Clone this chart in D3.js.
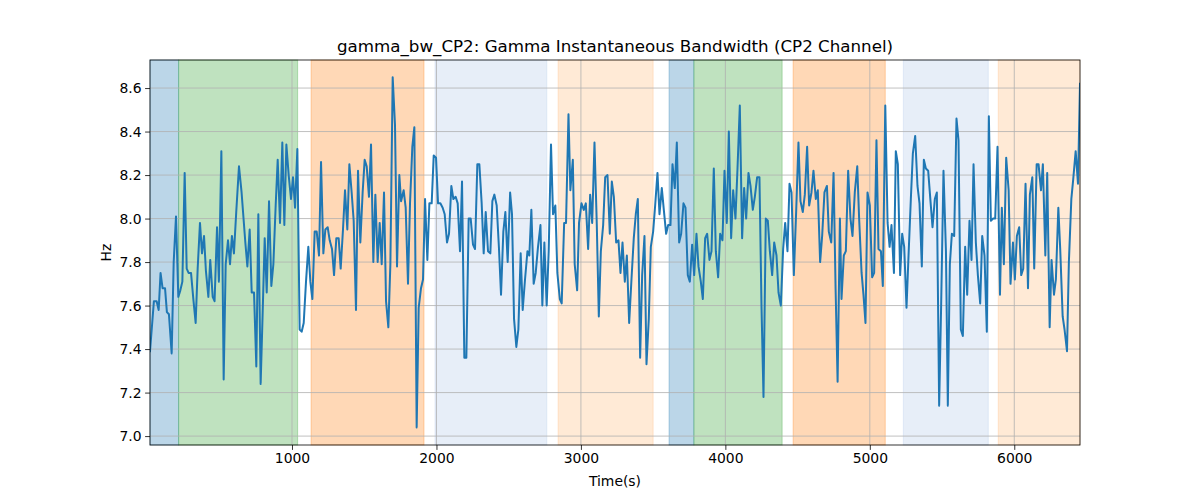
<!DOCTYPE html>
<html><head><meta charset="utf-8">
<script src="https://cdn.jsdelivr.net/npm/d3@7"></script>
<style>body{margin:0;background:#fff}svg{font-family:"DejaVu Sans",sans-serif}</style>
</head><body><svg id="c" width="1200" height="500"></svg>
<script>
const time = [17,44,63,77,90,104,121,134,148,167,181,197,213,227,241,257,271,284,301,317,333,347,363,377,391,404,421,434,451,464,481,494,511,527,541,557,571,584,598,614,633,651,677,691,707,721,737,753,767,783,797,811,
825,841,857,871,887,901,917,933,947,961,977,993,1007,1021,1037,1053,1067,1081,1097,1113,1127,1141,1157,1171,1187,1201,1217,1231,1247,1261,1277,1291,1307,1323,1337,1353,1367,1383,1397,1413,1427,1443,1457,1473,1489,1503,1517,1533,1547,1563,1577,1593,1607,
1621,1637,1651,1667,1681,1697,1713,1727,1743,1755,1773,1787,1803,1817,1833,1847,1863,1877,1893,1907,1921,1937,1951,1967,1981,1997,2011,2027,2043,2057,2073,2087,2103,2117,2133,2147,2163,2177,2193,2207,2223,2237,2253,2267,2283,2297,2313,2327,2341,2357,2373,2387,2401,
2417,2433,2447,2463,2477,2493,2510,2523,2537,2553,2567,2583,2597,2613,2630,2643,2657,2673,2687,2703,2720,2733,2747,2763,2777,2793,2807,2823,2837,2854,2867,2884,2897,2914,2927,2944,2957,2974,2987,3004,3020,3034,3050,3064,3078,3094,3110,3124,3138,3154,3168,3184,3200,
3214,3228,3244,3260,3274,3288,3304,3318,3334,3350,3366,3380,3394,3410,3424,3440,3454,3470,3484,3500,3514,3530,3544,3560,3574,3590,3604,3620,3634,3650,3664,3680,3694,3710,3724,3740,3754,3770,3784,3800,3814,3830,3844,3860,3874,3890,3904,3920,3934,3950,3964,3980,3994,
4010,4024,4040,4054,4070,4084,4100,4116,4130,4144,4160,4174,4190,4204,4220,4236,4250,4264,4280,4294,4308,4324,4338,4354,4368,4384,4400,4414,4430,4444,4458,4474,4490,4506,4520,4536,4550,4566,4580,4596,4610,4626,4640,4656,4670,4686,4703,4716,4733,4749,4763,4777,4793,
4804,4820,4834,4850,4866,4880,4896,4913,4926,4943,4956,4970,4984,5000,5016,5030,5046,5060,5077,5090,5107,5123,5137,5150,5167,5180,5194,5210,5224,5238,5254,5268,5284,5298,5314,5330,5344,5360,5374,5388,5404,5420,5434,5450,5464,5480,5494,5510,5527,5540,5554,5568,5584,
5600,5614,5630,5644,5660,5674,5690,5704,5718,5734,5748,5764,5778,5794,5810,5824,5838,5854,5868,5884,5901,5914,5928,5944,5961,5974,5991,6004,6018,6034,6048,6062,6078,6095,6108,6125,6138,6155,6168,6185,6198,6215,6228,6245,6258,6275,6288,6305,6318,6335,6348,6365,6378,6395,6408,6425,6441,6455];
const bandwidth = [7.39,7.62,7.62,7.58,7.75,7.68,7.68,7.57,7.56,7.38,7.80,8.01,7.64,7.67,7.71,8.21,7.77,7.75,7.75,7.63,7.52,7.77,7.98,7.84,7.92,7.76,7.64,7.81,7.64,7.62,7.96,7.71,8.31,7.26,7.79,7.90,7.79,7.92,7.84,8.03,8.24,8.12,7.89,7.78,7.95,7.66,7.66,7.32,8.02,7.24,7.57,7.91,
7.66,8.08,7.69,7.79,8.06,8.27,7.98,8.35,7.97,8.34,8.20,8.09,8.19,8.05,8.32,7.49,7.48,7.52,7.71,7.87,7.71,7.63,7.94,7.94,7.83,8.26,7.84,7.95,7.96,7.90,7.86,7.74,7.91,7.91,7.77,7.95,8.13,7.95,8.25,8.12,7.99,7.58,8.22,7.89,8.12,8.27,8.24,8.10,8.34,7.80,8.11,7.80,7.98,
7.79,8.12,7.62,7.50,7.79,8.65,8.43,7.78,8.20,8.08,8.13,8.05,7.70,8.07,8.33,8.42,7.04,7.59,7.68,7.72,8.09,7.81,8.07,8.07,8.29,8.28,8.07,8.07,8.05,8.02,7.89,7.93,8.15,8.09,8.10,8.07,7.85,8.17,7.36,7.36,8.00,8.00,7.88,7.86,8.25,8.25,8.07,7.84,8.03,7.85,7.84,8.08,8.11,
8.06,7.86,7.65,7.94,8.03,7.80,8.12,8.02,7.54,7.41,7.49,7.84,7.58,7.72,7.85,7.83,8.04,7.70,7.75,7.87,7.97,7.60,7.89,7.60,7.85,8.34,8.02,8.06,7.75,7.63,7.61,7.98,7.98,8.48,8.13,8.27,7.79,7.67,7.98,8.07,8.04,8.07,7.86,8.11,7.98,8.35,7.97,7.55,7.85,7.97,8.19,8.20,7.93,
8.17,8.10,7.89,7.90,7.75,7.89,7.71,7.83,7.52,7.72,7.91,8.02,8.09,7.36,7.74,7.92,7.33,7.54,7.87,7.94,8.06,8.21,8.02,8.14,8.04,7.93,7.97,7.97,8.25,8.14,8.35,7.89,7.93,8.07,8.05,7.74,7.71,7.88,7.74,7.93,7.78,7.71,7.63,7.91,7.93,7.81,7.85,8.23,7.85,7.73,7.93,7.90,8.22,
7.98,8.40,7.91,8.13,8.00,8.23,8.52,7.91,8.14,8.00,8.21,8.15,8.04,8.10,8.19,8.19,7.60,7.18,8.00,7.99,7.85,7.74,7.89,7.83,7.66,7.60,7.86,7.98,7.85,8.16,8.12,7.74,8.03,8.35,8.08,8.03,8.11,8.33,8.06,8.12,8.22,8.09,8.13,7.80,7.92,8.12,8.15,7.94,7.89,8.21,7.68,7.25,8.00,
7.63,7.83,7.85,8.22,8.00,7.92,8.12,8.24,8.00,7.75,7.65,7.52,8.12,8.06,7.73,7.75,8.36,7.86,7.85,7.69,8.52,7.98,7.87,7.97,7.75,8.31,8.25,7.74,7.93,7.87,7.59,7.83,8.09,8.30,8.38,8.15,8.07,7.78,8.27,8.23,8.22,8.08,7.96,8.09,8.12,7.14,7.61,8.22,7.85,7.14,7.79,7.93,7.92,
8.46,8.36,7.49,7.46,7.87,7.65,7.99,7.81,8.25,7.89,7.74,7.61,7.92,7.83,7.48,8.47,7.99,8.00,8.00,8.33,7.65,8.05,7.79,8.28,8.13,7.70,7.89,7.72,7.92,7.96,7.74,7.77,8.16,7.68,8.11,8.19,7.77,8.25,8.25,8.13,8.25,7.83,8.21,7.50,7.81,7.65,7.72,8.05,7.86,7.55,7.49,7.39,7.80,8.09,8.18,8.31,8.16,8.62];

const spanStart = [17,215,1132,1990,2842,3610,3782,4469,5232,5889];
const spanEnd   = [215,1039,1914,2764,3500,3782,4393,5107,5820,6455];
const spanColor = ["#1f77b4","#2ca02c","#ff7f0e","#aec7e8","#ffbb78","#1f77b4","#2ca02c","#ff7f0e","#aec7e8","#ffbb78"];
const xTicks = [1000,2000,3000,4000,5000,6000];
const yTicks = [7.0,7.2,7.4,7.6,7.8,8.0,8.2,8.4,8.6];
const titleText = "gamma_bw_CP2: Gamma Instantaneous Bandwidth (CP2 Channel)";

const svg = d3.select("#c");
const L=150, R=1080, T=60, B=445;
const x = d3.scaleLinear().domain([time[0], time[time.length-1]]).range([L,R]);
const y = d3.scaleLinear().domain([6.959, 8.729]).range([B,T]);

const spans = spanStart.map((s,i)=>({s, e: spanEnd[i], c: spanColor[i]}));
svg.append("g").selectAll("rect").data(spans).join("rect")
  .attr("x", d=>x(d.s)).attr("width", d=>x(d.e)-x(d.s))
  .attr("y", T).attr("height", B-T)
  .attr("fill", d=>d.c).attr("fill-opacity", 0.3)
  .attr("stroke", d=>d.c).attr("stroke-opacity", 0.3).attr("stroke-width", 1);

// grid
const grid = svg.append("g");
grid.selectAll("line.gx").data(xTicks).join("line").attr("class","gx")
  .attr("x1", d=>x(d)).attr("x2", d=>x(d)).attr("y1", T).attr("y2", B)
  .attr("stroke", "#b0b0b0").attr("stroke-width", 0.8);
grid.selectAll("line.gy").data(yTicks).join("line").attr("class","gy")
  .attr("y1", d=>y(d)).attr("y2", d=>y(d)).attr("x1", L).attr("x2", R)
  .attr("stroke", "#b0b0b0").attr("stroke-width", 0.8);

// line
const line = d3.line().x((d,i)=>x(time[i])).y(d=>y(d));
svg.append("defs").append("clipPath").attr("id","clip").append("rect")
  .attr("x",L).attr("y",T).attr("width",R-L).attr("height",B-T);
svg.append("path").datum(bandwidth).attr("d", line)
  .attr("clip-path","url(#clip)")
  .attr("fill","none").attr("stroke","#1f77b4").attr("stroke-width",2)
  .attr("stroke-linejoin","round").attr("stroke-linecap","square");

// axes
const xAxis = d3.axisBottom(x).tickValues(xTicks).tickFormat(d3.format("d")).tickSizeOuter(0).tickSize(4.9).tickPadding(3.5);
const yAxis = d3.axisLeft(y).tickValues(yTicks).tickFormat(d3.format(".1f")).tickSizeOuter(0).tickSize(4.9).tickPadding(3.5);
const gx = svg.append("g").attr("transform",`translate(0,${B})`).call(xAxis);
const gy = svg.append("g").attr("transform",`translate(${L},0)`).call(yAxis);
[gx,gy].forEach(g=>{
  g.select(".domain").remove();
  g.selectAll("line").attr("stroke","#000").attr("stroke-width",0.8);
  g.selectAll("text").attr("fill","#000").style("font-size","13.9px").style("font-family","DejaVu Sans");
});
// frame
svg.append("rect").attr("x",L).attr("y",T).attr("width",R-L).attr("height",B-T)
  .attr("fill","none").attr("stroke","#000").attr("stroke-width",0.8);

svg.append("text").attr("x",(L+R)/2).attr("y",T-8).attr("text-anchor","middle")
  .style("font-size","16.7px").attr("fill","#000").text(titleText);
svg.append("text").attr("x",(L+R)/2).attr("y",486).attr("text-anchor","middle")
  .style("font-size","13.9px").attr("fill","#000").text("Time(s)");
svg.append("text").attr("transform",`translate(111,${(T+B)/2}) rotate(-90)`).attr("text-anchor","middle")
  .style("font-size","13.9px").attr("fill","#000").text("Hz");
</script></body></html>
